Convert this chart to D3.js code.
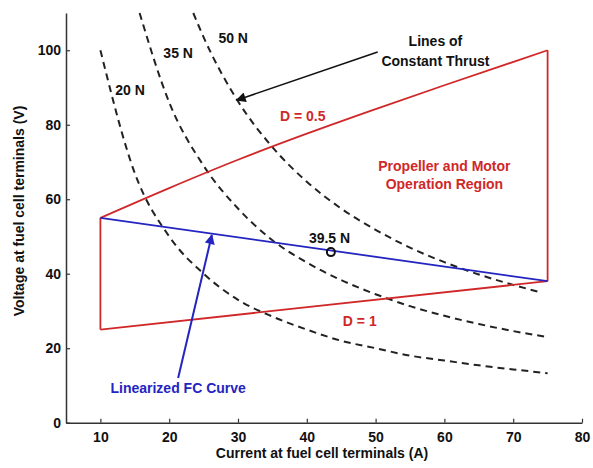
<html>
<head>
<meta charset="utf-8">
<script src="https://cdn.jsdelivr.net/npm/d3@7"></script>
<style>
  body { margin:0; background:#fff; }
  text { font-family: "Liberation Sans", Arial, sans-serif; font-weight: bold; }
</style>
</head>
<body>
<script>
// axis ticks
var xTicks = [10, 20, 30, 40, 50, 60, 70, 80];
var yTicks = [0, 20, 40, 60, 80, 100];

// operating region boundaries (current A, voltage V)
var dHalf = [[10,55],[20,63],[30,70.6],[40,77.6],[50,84.2],[60,90.6],[75,100]];
var dOne = [[10,25],[75,38]];
var leftEdge = [[10,25],[10,55]];
var rightEdge = [[75,38],[75,100]];

// linearized fuel cell curve
var fcCurve = [[10,55],[75,38]];
var opPoint = [43.5, 45.8];

// constant thrust lines
var thrustNames = ["20 N", "35 N", "50 N"];
var thrust20 = [[10,100],[15,67],[20,50],[25,40],[30,33],[35,28.5],[40,25],[45,22],[50,20],[55,18],[60,16.7],[65,15.4],[70,14.3],[75,13.3]];
var thrust35 = [[15.7,110],[20,86],[25,69],[30,57.5],[35,49],[40,43],[45,38.3],[50,34.5],[55,31.3],[60,28.7],[65,26.5],[70,24.6],[75,23]];
var thrust50 = [[23.5,110],[25,103.5],[30,86.3],[35,74],[40,64.7],[45,57.5],[50,51.8],[55,47],[60,43.1],[65,39.8],[70,37],[74,35]];

var width = 593, height = 468;
var svg = d3.select("body").append("svg")
    .attr("width", width)
    .attr("height", height);

var x = d3.scaleLinear().domain([5, 80]).range([66, 582]);
var y = d3.scaleLinear().domain([0, 110]).range([422.7, 13]);

var red = "#d02828", blue = "#2424c0";

var defs = svg.append("defs");
function marker(id, col) {
  defs.append("marker")
      .attr("id", id)
      .attr("viewBox", "0 0 10 10")
      .attr("refX", 9).attr("refY", 5)
      .attr("markerWidth", 14).attr("markerHeight", 10)
      .attr("markerUnits", "userSpaceOnUse")
      .attr("orient", "auto")
    .append("path")
      .attr("d", "M0,0L10,5L0,10z")
      .attr("fill", col);
}
marker("arrBlack", "#111");
marker("arrBlue", blue);

var line = d3.line().x(d => x(d[0])).y(d => y(d[1]));
var curve = d3.line().x(d => x(d[0])).y(d => y(d[1])).curve(d3.curveMonotoneX);

// axes
var xAxis = d3.axisBottom(x).tickValues(xTicks).tickSizeInner(-4).tickSizeOuter(0).tickPadding(9);
var yAxis = d3.axisLeft(y).tickValues(yTicks).tickSizeInner(-4).tickSizeOuter(0).tickPadding(5);

var gx = svg.append("g").attr("transform", "translate(0," + y(0) + ")").call(xAxis);
var gy = svg.append("g").attr("transform", "translate(" + x(5) + ",0)").call(yAxis);
[gx, gy].forEach(function(g) {
  g.select(".domain").attr("stroke", "#333").attr("stroke-width", 1.5);
  g.selectAll(".tick line").attr("stroke", "#333").attr("stroke-width", 1.2);
  g.selectAll(".tick text").attr("font-size", 14).attr("fill", "#111")
    .style("font-family", "'Liberation Sans', Arial, sans-serif").style("font-weight", "bold");
});

// thrust lines
svg.selectAll("path.thrust")
  .data([thrust20, thrust35, thrust50])
  .join("path")
  .attr("class", "thrust")
  .attr("d", curve)
  .attr("fill", "none")
  .attr("stroke", "#222")
  .attr("stroke-width", 2)
  .attr("stroke-dasharray", "7,5");

// operation region
[dHalf, dOne, leftEdge, rightEdge].forEach(function(seg) {
  svg.append("path").attr("d", curve(seg))
    .attr("fill", "none").attr("stroke", red).attr("stroke-width", 1.8);
});

// fuel cell curve
svg.append("path").attr("d", line(fcCurve))
  .attr("fill", "none").attr("stroke", blue).attr("stroke-width", 1.8);

svg.append("circle")
  .attr("cx", x(opPoint[0])).attr("cy", y(opPoint[1])).attr("r", 4)
  .attr("fill", "none").attr("stroke", "#111").attr("stroke-width", 2);

// arrows
svg.append("path").attr("d", line([[50.3,99.5],[29.8,86.6]]))
  .attr("stroke", "#111").attr("stroke-width", 1.6).attr("marker-end", "url(#arrBlack)");
svg.append("path").attr("d", line([[21.3,12.0],[26.2,50.4]]))
  .attr("stroke", blue).attr("stroke-width", 2).attr("marker-end", "url(#arrBlue)");

// annotations
var notes = [
  {t: "Lines of", a: 58.7, v: 101.1, c: "#111"},
  {t: "Constant Thrust", a: 58.7, v: 95.8, c: "#111"},
  {t: "D = 0.5", a: 39.4, v: 81, c: red},
  {t: "Propeller and Motor", a: 60.0, v: 67.5, c: red},
  {t: "Operation Region", a: 60.0, v: 62.7, c: red},
  {t: "D = 1", a: 47.7, v: 26, c: red},
  {t: "39.5 N", a: 43.3, v: 48.2, c: "#111"},
  {t: "Linearized FC Curve", a: 21.3, v: 8, c: blue},
  {t: thrustNames[0], a: 14.3, v: 88, c: "#111"},
  {t: thrustNames[1], a: 21.3, v: 97.9, c: "#111"},
  {t: thrustNames[2], a: 29.3, v: 101.9, c: "#111"}
];
svg.selectAll("text.note")
  .data(notes)
  .join("text")
  .attr("class", "note")
  .attr("x", d => x(d.a))
  .attr("y", d => y(d.v))
  .attr("text-anchor", "middle")
  .attr("font-size", 14)
  .attr("fill", d => d.c)
  .text(d => d.t);

// axis labels
svg.append("text")
  .attr("x", 322).attr("y", 458)
  .attr("text-anchor", "middle").attr("font-size", 14).attr("fill", "#111")
  .text("Current at fuel cell terminals (A)");
svg.append("text")
  .attr("transform", "translate(24,211) rotate(-90)")
  .attr("text-anchor", "middle").attr("font-size", 14).attr("fill", "#111")
  .text("Voltage at fuel cell terminals (V)");
</script>
</body>
</html>
